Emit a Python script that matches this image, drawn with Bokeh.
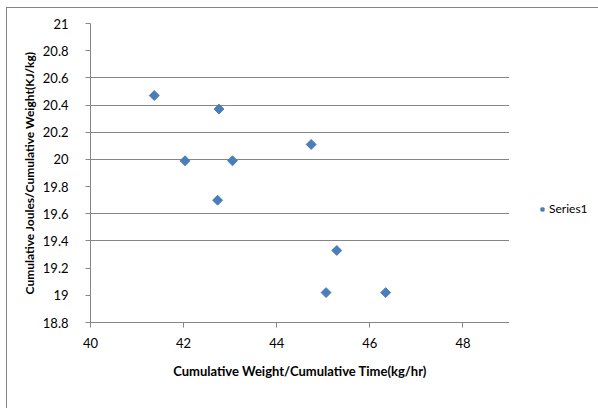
import math
from bokeh.plotting import figure
from bokeh.layouts import row
from bokeh.models import Range1d, FixedTicker, Legend, LegendItem, CustomJSTickFormatter
from bokeh.embed import file_html
from bokeh.resources import INLINE

# Data
x_vals = [41.37, 42.76, 42.03, 43.05, 42.73, 44.74, 45.29, 45.06, 46.34]
y_vals = [20.47, 20.37, 19.99, 19.99, 19.70, 20.11, 19.33, 19.02, 19.02]
x_ticks = [40, 42, 44, 46, 48]
y_ticks = [18.8, 19.0, 19.2, 19.4, 19.6, 19.8, 20.0, 20.2, 20.4, 20.6, 20.8, 21.0]
series_name = "Series1"
x_title = "Cumulative Weight/Cumulative Time(kg/hr)"
y_title = "Cumulative Joules/Cumulative Weight(KJ/kg)"

FONT = "Lato"
GRID = "#868686"
BLUE = "#4A7EBB"

# main chart
p = figure(width=502, height=400, output_backend="svg", toolbar_location=None,
           x_range=Range1d(40, 49), y_range=Range1d(18.8, 21.0),
           min_border_left=83, min_border_right=0, min_border_top=15, min_border_bottom=86)
p.outline_line_color = None
p.background_fill_color = "white"
p.border_fill_color = "white"

p.scatter(x_vals, y_vals, marker="square", size=7, angle=math.pi / 4,
          fill_color=BLUE, line_color=BLUE)

p.xaxis.ticker = FixedTicker(ticks=x_ticks)
p.yaxis.ticker = FixedTicker(ticks=y_ticks)
p.yaxis.formatter = CustomJSTickFormatter(code="return (Math.round(tick*10)/10).toString();")
for ax in (p.xaxis[0], p.yaxis[0]):
    ax.axis_line_color = GRID
    ax.major_tick_line_color = GRID
    ax.minor_tick_line_color = None
    ax.major_tick_in = 0
    ax.major_tick_out = 5
    ax.major_label_text_font = FONT
    ax.major_label_text_font_size = "13px"
    ax.major_label_text_color = "#000000"
    ax.axis_label_text_font = FONT
    ax.axis_label_text_font_style = "bold"
    ax.axis_label_text_color = "#000000"
p.xaxis.axis_label_text_font_size = "13px"
p.yaxis.axis_label_text_font_size = "12px"
p.xaxis.major_label_standoff = 10
p.yaxis.major_label_standoff = 17
p.xaxis.axis_label = x_title
p.yaxis.axis_label = y_title
p.xaxis.axis_label_standoff = 12
p.yaxis.axis_label_standoff = 3

p.xgrid.grid_line_color = None
p.ygrid.ticker = FixedTicker(ticks=[19.4, 19.6, 20.0, 20.2, 20.4, 20.6])
p.ygrid.grid_line_color = GRID
p.ygrid.grid_line_width = 1

# legend panel (separate small figure to the right of the plot area);
# its series renderer uses the same data, which lies outside this panel's range
q = figure(width=89, height=400, output_backend="svg", toolbar_location=None,
           x_range=Range1d(0, 1), y_range=Range1d(0, 1), min_border=0)
q.axis.visible = False
q.grid.grid_line_color = None
q.outline_line_color = None
q.background_fill_color = "white"
q.border_fill_color = "white"
key = q.scatter(x_vals, y_vals, marker="square", size=7, angle=math.pi / 4,
                fill_color=BLUE, line_color=BLUE)
legend = Legend(items=[LegendItem(label=series_name, renderers=[key])],
                location=(29, 106), glyph_width=8, glyph_height=14, label_height=14,
                label_standoff=3, padding=0, margin=0, spacing=0,
                label_text_font=FONT, label_text_font_size="12px",
                label_text_color="#000000",
                border_line_color=None, background_fill_alpha=0)
q.add_layout(legend, "center")

layout = row(p, q, spacing=0)
layout.margin = (7, 0, 0, 6)
layout.styles = {"border-top": "1px solid #868686", "border-left": "1px solid #868686"}

open("out.html", "w").write(file_html(layout, INLINE))
